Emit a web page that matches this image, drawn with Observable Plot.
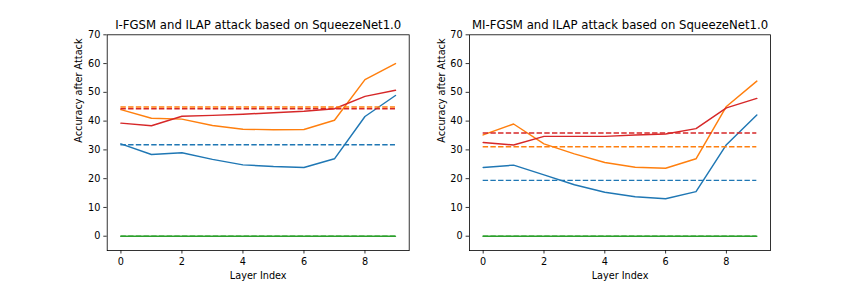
<!DOCTYPE html>
<html>
<head>
<meta charset="utf-8">
<script src="https://cdn.jsdelivr.net/npm/d3@7"></script>
<script src="https://cdn.jsdelivr.net/npm/@observablehq/plot@0.6"></script>
<style>
  html, body { margin: 0; padding: 0; background: #fff; }
  #wrap { position: relative; width: 856px; height: 286px; overflow: hidden; font-family: "DejaVu Sans", sans-serif; }
  #wrap > div { position: absolute; top: 0; }
</style>
</head>
<body>
<div id="wrap"><div id="left" style="left:0px"></div><div id="right" style="left:428px"></div></div>
<script>
// ---- data ----
const layers = [0, 1, 2, 3, 4, 5, 6, 7, 8, 9];
const xTicks = [0, 2, 4, 6, 8];
const yTicks = [0, 10, 20, 30, 40, 50, 60, 70];

const titles = ["I-FGSM and ILAP attack based on SqueezeNet1.0", "MI-FGSM and ILAP attack based on SqueezeNet1.0"];
const xLabel = "Layer Index";
const yLabel = "Accuracy after Attack";

// left panel (I-FGSM)
const leftBlue   = [32.1, 28.4, 29.0, 26.7, 24.8, 24.2, 23.9, 26.9, 41.6, 48.9];
const leftOrange = [44.0, 41.0, 40.7, 38.5, 37.2, 37.0, 37.1, 40.3, 54.4, 60.0];
const leftGreen  = [0, 0, 0, 0, 0, 0, 0, 0, 0, 0];
const leftRed    = [39.3, 38.4, 41.7, 42.0, 42.4, 42.9, 43.4, 44.3, 48.6, 50.7];
const leftBase   = { blue: 31.8, orange: 44.9, green: 0, red: 44.3 };

// right panel (MI-FGSM)
const rightBlue   = [23.9, 24.7, 21.3, 17.9, 15.3, 13.7, 13.0, 15.5, 31.8, 42.1];
const rightOrange = [35.2, 39.0, 32.1, 28.6, 25.6, 24.0, 23.6, 26.9, 45.1, 53.9];
const rightGreen  = [0, 0, 0, 0, 0, 0, 0, 0, 0, 0];
const rightRed    = [32.6, 31.7, 34.7, 34.7, 34.7, 35.2, 35.5, 37.4, 44.6, 47.9];
const rightBase   = { blue: 19.4, orange: 31.1, green: 0, red: 35.9 };

const colors = { blue: "#1f77b4", orange: "#ff7f0e", green: "#2ca02c", red: "#d62728" };

function panel(title, series, base, marginLeft, marginRight) {
  const lw = 1.46;
  const marks = [];
  const order = ["blue", "orange", "green", "red"];
  for (const k of order) {
    const rows = layers.map((x, i) => ({ x, y: series[k][i] }));
    marks.push(Plot.line(rows, { x: "x", y: "y", stroke: colors[k], strokeWidth: lw }));
  }
  for (const k of order) {
    marks.push(Plot.ruleY([base[k]], {
      x1: layers[0], x2: layers[layers.length - 1],
      stroke: colors[k], strokeWidth: lw, strokeDasharray: "5.4,2.3"
    }));
  }
  marks.push(Plot.frame({ stroke: "black", strokeWidth: 0.8 }));
  marks.push(Plot.axisX(xTicks, { tickSize: 3.4, tickPadding: 4.3, fontSize: 9.7, stroke: "black", strokeWidth: 0.8, fill: "black", label: null }));
  marks.push(Plot.axisY(yTicks, { tickSize: 3.4, tickPadding: 3.4, fontSize: 9.7, stroke: "black", strokeWidth: 0.8, fill: "black", label: null }));
  marks.push(Plot.text([title], { frameAnchor: "top", dy: -5.8, lineAnchor: "bottom", fontSize: 11.7, fill: "black" }));
  marks.push(Plot.text([xLabel], { frameAnchor: "bottom", dy: 28, lineAnchor: "bottom", fontSize: 9.7, fill: "black" }));
  marks.push(Plot.text([yLabel], { frameAnchor: "left", dx: -25, rotate: -90, lineAnchor: "bottom", fontSize: 9.7, fill: "black" }));
  return Plot.plot({
    width: 428,
    height: 286,
    marginLeft, marginRight,
    marginTop: 34.3,
    marginBottom: 35.9,
    style: { fontFamily: "DejaVu Sans, sans-serif", background: "transparent" },
    x: { domain: [-0.45, 9.45], axis: null },
    y: { domain: [-5, 70], axis: null },
    marks
  });
}

document.getElementById("left").appendChild(panel(titles[0],
  { blue: leftBlue, orange: leftOrange, green: leftGreen, red: leftRed }, leftBase, 106.7, 19.3));
document.getElementById("right").appendChild(panel(titles[1],
  { blue: rightBlue, orange: rightOrange, green: rightGreen, red: rightRed }, rightBase, 41, 86));
</script>
</body>
</html>
